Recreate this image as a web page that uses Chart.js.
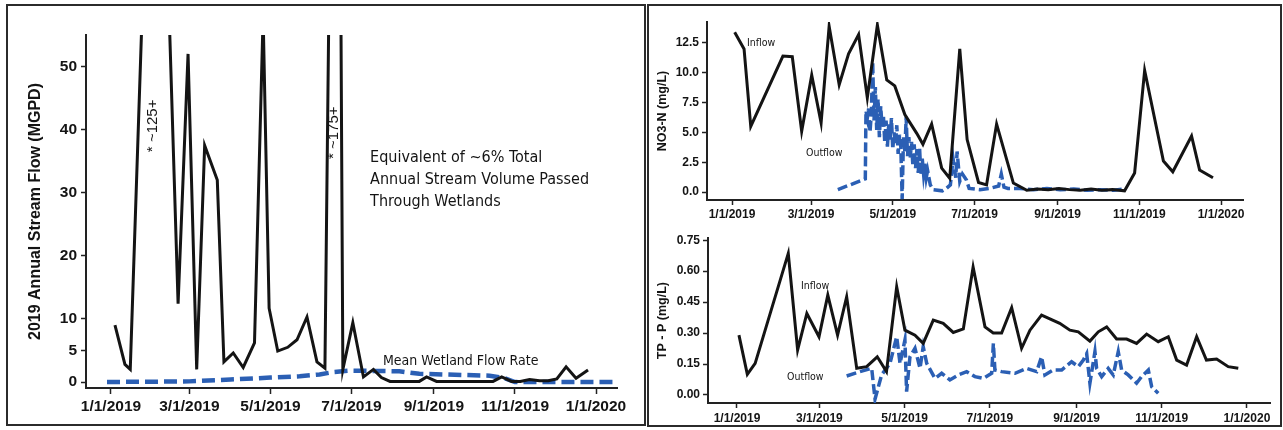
<!DOCTYPE html>
<html>
<head>
<meta charset="utf-8">
<title>2019 Stream Flow and Wetland Water Quality</title>
<script src="https://cdn.jsdelivr.net/npm/chart.js@4.4.1/dist/chart.umd.min.js"></script>
<style>
  html, body { margin: 0; padding: 0; background: #fff; width: 1283px; height: 430px; overflow: hidden; }
  .frame { position: absolute; box-sizing: border-box; border: 2px solid #2b2b2b; }
  canvas { position: absolute; }
</style>
</head>
<body>
<div class="frame" style="left:6px;top:4px;width:640px;height:422px"></div>
<div class="frame" style="left:647px;top:4px;width:635px;height:423px"></div>
<canvas id="flow" width="636" height="418" style="left:8px;top:6px"></canvas>
<canvas id="no3" width="628" height="214" style="left:650px;top:8px"></canvas>
<canvas id="tp" width="628" height="198" style="left:650px;top:228px"></canvas>
<script>
// Shared date axis: days counted from 1/1/2019
const dateTickDays = [0, 59, 120, 181, 243, 304, 365];
const dateTickLabels = ['1/1/2019', '3/1/2019', '5/1/2019', '7/1/2019', '9/1/2019', '11/1/2019', '1/1/2020'];

// Stream flow (MGPD)
const flowDay = [3, 10.5, 14.5, 34, 50.5, 58, 64.5, 70.5, 80, 85, 92, 99.5, 108, 114.5, 119, 125.5, 133, 140, 147.5, 155,
  161, 170, 174.5, 182, 190, 197.5, 203.5, 210, 220, 232, 237.5, 245, 258, 272, 287.5, 294, 301.5, 308, 315, 322.5,
  329, 335.5, 342.5, 350, 359];
const flowMGPD = [9, 2.8, 2, 125, 12.4, 52, 2, 37.5, 32, 3.2, 4.6, 2.3, 6.2, 58, 11.7, 4.9, 5.5, 6.7, 10.3, 3.2,
  2.2, 175, 2, 9.4, 0.8, 2, 0.7, 0.1, 0.1, 0.1, 0.8, 0.1, 0.1, 0.1, 0.1, 0.8, 0.1, 0.1, 0.4, 0.2,
  0.2, 0.5, 2.4, 0.6, 1.9];

// Mean wetland flow rate (MGPD)
const wetlandDay = [-3, 30, 59, 90, 120, 142, 157, 168, 180, 217, 232, 285, 296, 304, 381];
const wetlandMGPD = [0, 0.05, 0.1, 0.4, 0.7, 0.9, 1.2, 1.6, 1.8, 1.7, 1.3, 1.0, 0.6, 0, 0];

const flowTicks = [0, 5, 10, 20, 30, 40, 50];
const flowTickLabels = ['0', '5', '10', '20', '30', '40', '50'];

// NO3-N (mg/L)
const no3InDay = [2, 9, 14, 38, 45, 52, 59.5, 66.5, 72.5, 80, 87, 94.5, 101, 108.5, 115.5, 121.5, 129, 138, 142.5, 149,
  156.5, 162.5, 170, 175.5, 184, 190, 197.5, 210, 220, 228, 236, 244, 252, 260, 268, 276, 284, 293, 300.5, 308,
  322, 329, 343, 349, 359];
const no3In = [13.4, 12.0, 5.5, 11.4, 11.35, 5.1, 9.8, 5.8, 13.9, 9.0, 11.6, 13.2, 7.9, 14.0, 9.4, 8.9, 6.5, 4.9, 4.0, 5.7,
  2.0, 1.15, 12.0, 4.4, 0.8, 0.6, 5.7, 0.75, 0.15, 0.25, 0.2, 0.3, 0.2, 0.15, 0.25, 0.15, 0.2, 0.1, 1.6, 10.2,
  2.6, 1.7, 4.7, 1.85, 1.2];
const no3OutDay = [79, 99.5, 100, 101, 102, 103, 104, 105, 106, 107, 108, 109, 110, 111, 112, 113, 114, 115, 116, 117,
  118, 119, 120, 121, 122, 123, 124, 125, 126, 127, 128, 129, 130, 131, 132, 133, 134, 135, 136, 137,
  138, 139, 140, 141, 142, 143, 144, 145, 146, 148, 150, 157, 160, 163, 165, 167, 168, 170, 172, 175,
  177, 185, 192, 199, 201, 203, 206, 215, 225, 235, 245, 255, 265, 275, 285, 293];
const no3Out = [0.2, 1.1, 6.8, 6.2, 7.0, 5.0, 6.6, 10.9, 6.0, 8.8, 5.2, 7.8, 4.6, 7.2, 5.5, 6.4, 4.2, 6.0, 3.8, 5.8,
  4.4, 6.2, 3.6, 5.0, 4.0, 5.6, 3.2, 4.8, 3.8, -0.6, 4.6, 3.4, 6.3, 3.0, 4.6, 2.8, 4.2, 2.2, 4.0, 2.0,
  3.6, 1.6, 3.7, 1.4, 2.8, 1.5, 2.4, 1.2, 1.8, 0.6, 0.2, 0.1, 0.3, 0.6, 2.8, 1.2, 3.4, 0.9, 1.5, 1.0,
  0.3, 0.2, 0.3, 0.5, 1.5, 0.4, 0.3, 0.3, 0.2, 0.3, 0.2, 0.25, 0.15, 0.2, 0.15, 0.25];
const no3Ticks = [0, 2.5, 5, 7.5, 10, 12.5];
const no3TickLabels = ['0.0', '2.5', '5.0', '7.5', '10.0', '12.5'];

// TP - P (mg/L)
const tpInDay = [1.4, 7.4, 13, 36.7, 43.4, 50, 58.7, 65, 72, 78.5, 85.7, 92.8, 100.4, 107, 114.3, 120.2, 127.4, 133.3,
  140.5, 147.6, 154.8, 162, 169, 177.5, 183.4, 189.4, 196.6, 203.7, 209.7, 218, 231, 238.3, 244.3, 252.6, 258.6,
  264.6, 271.7, 278.9, 286, 293.2, 301.5, 308.7, 314.7, 321.8, 329, 336, 343.3, 351.6, 358.8];
const tpIn = [0.29, 0.10, 0.153, 0.686, 0.218, 0.395, 0.282, 0.484, 0.29, 0.476, 0.129, 0.137, 0.185, 0.113, 0.524, 0.314, 0.29, 0.25,
  0.363, 0.347, 0.303, 0.32, 0.62, 0.33, 0.30, 0.30, 0.423, 0.226, 0.314, 0.387, 0.347, 0.314, 0.306, 0.261, 0.306,
  0.33, 0.271, 0.271, 0.25, 0.295, 0.258, 0.282, 0.169, 0.145, 0.282, 0.169, 0.174, 0.137, 0.129];
const tpOutDay = [78.5, 88, 96.4, 98.8, 103.5, 109.5, 114.3, 116.7, 120.2, 121.4, 123.8, 127.4, 131, 133.3, 135.8, 141.7,
  146.5, 152.4, 158.4, 164.4, 170.3, 176.3, 182.3, 183.5, 184.6, 189.4, 199, 207.3, 214.5, 218, 220.4, 226.4, 232.4,
  239.5, 244.3, 247.9, 250.3, 252.6, 256.2, 257.4, 261, 265.7, 269.3, 272.9, 275.3, 280, 286, 289.6, 294.4, 296.8, 301.5];
const tpOut = [0.092, 0.113, 0.129, -0.02, 0.097, 0.153, 0.282, 0.153, 0.266, 0.016, 0.185, 0.226, 0.129, 0.234, 0.153, 0.08,
  0.105, 0.073, 0.097, 0.113, 0.089, 0.08, 0.105, 0.25, 0.121, 0.113, 0.105, 0.129, 0.113, 0.185, 0.097, 0.121, 0.121,
  0.161, 0.137, 0.169, 0.2, 0.057, 0.21, 0.129, 0.089, 0.129, 0.097, 0.21, 0.121, 0.097, 0.057, 0.089, 0.121, 0.04, 0.008];
const tpTicks = [0, 0.15, 0.30, 0.45, 0.60, 0.75];
const tpTickLabels = ['0.00', '0.15', '0.30', '0.45', '0.60', '0.75'];

// Annotation text
const volumeNote = ['Equivalent of ~6% Total', 'Annual Stream Volume Passed', 'Through Wetlands'];
const wetlandNote = 'Mean Wetland Flow Rate';
const peakNotes = ['* ~125+', '* ~175+'];

const INK = '#141414';
const BLUE = '#2b5fb4';
const SANS = 'Liberation Sans, Arial, sans-serif';
const NOTE = '"DejaVu Sans Condensed", "DejaVu Sans", Tahoma, sans-serif';

const pairs = (xs, ys) => xs.map((x, i) => ({ x, y: ys[i] }));

// Writes free text at data coordinates
const notesPlugin = {
  id: 'notes',
  afterDatasetsDraw(chart, args, opts) {
    const ctx = chart.ctx, xs = chart.scales.x, ys = chart.scales.y;
    (opts.items || []).forEach(n => {
      ctx.save();
      ctx.translate(xs.getPixelForValue(n.x), ys.getPixelForValue(n.y));
      if (n.rotate) ctx.rotate(n.rotate * Math.PI / 180);
      ctx.font = n.font;
      ctx.fillStyle = n.color || INK;
      ctx.textAlign = n.align || 'left';
      ctx.textBaseline = 'middle';
      n.lines.forEach((t, i) => ctx.fillText(t, 0, i * (n.gap || 0)));
      ctx.restore();
    });
  }
};

function dateAxis(min, max, height, font, tickLength, padding) {
  return {
    type: 'linear', min, max,
    afterBuildTicks: s => { s.ticks = dateTickDays.map(v => ({ value: v })); },
    afterFit: s => { s.height = height; },
    ticks: { callback: (v, i) => dateTickLabels[i], autoSkip: false, maxRotation: 0, minRotation: 0,
             font, color: INK, padding },
    grid: { drawOnChartArea: false, drawTicks: true, tickLength, tickColor: '#222', tickWidth: 1.5 },
    border: { display: true, color: '#222', width: 2 }
  };
}

function valueAxis(min, max, values, labels, width, font, tickLength, padding, title, titleFont, titlePad) {
  return {
    type: 'linear', min, max,
    afterBuildTicks: s => { s.ticks = values.map(v => ({ value: v })); },
    afterFit: s => { s.width = width; },
    ticks: { callback: (v, i) => labels[i], autoSkip: false, font, color: INK, padding },
    grid: { drawOnChartArea: false, drawTicks: true, tickLength, tickColor: '#222', tickWidth: 1.5 },
    border: { display: true, color: '#222', width: 2 },
    title: { display: true, text: title, font: titleFont, color: INK, padding: { top: titlePad, bottom: 0 } }
  };
}

function lineSet(data, color, width, dash) {
  return { data, borderColor: color, borderWidth: width, borderDash: dash || [], pointRadius: 0,
           tension: 0, fill: false, borderJoinStyle: 'miter', borderCapStyle: 'butt' };
}

const common = {
  responsive: false, animation: false, events: [],
  plugins: { legend: { display: false }, tooltip: { enabled: false } }
};

// Left: annual stream flow with mean wetland flow
new Chart(document.getElementById('flow'), {
  type: 'line',
  data: { datasets: [
    lineSet(pairs(flowDay, flowMGPD), INK, 3),
    lineSet(pairs(wetlandDay, wetlandMGPD), BLUE, 4.5, [13, 6])
  ] },
  options: {
    ...common,
    layout: { padding: { top: 29, right: 27, bottom: 0, left: 0 } },
    scales: {
      x: dateAxis(-18.8, 380.8, 36, { family: SANS, size: 15.5, weight: 'bold' }, 6, 3),
      y: valueAxis(-0.95, 55, flowTicks, flowTickLabels, 78, { family: SANS, size: 15.5, weight: 'bold' }, 5, 4,
                   '2019 Annual Stream Flow (MGPD)', { family: SANS, size: 16, weight: 'bold' }, 18)
    },
    plugins: { ...common.plugins, notes: { items: [
      { x: 195, y: 35.5, lines: volumeNote, gap: 22, font: '16px ' + NOTE },
      { x: 204.7, y: 3.2, lines: [wetlandNote], font: '14px ' + NOTE },
      { x: 31.6, y: 40.6, lines: [peakNotes[0]], rotate: -90, align: 'center', font: '15px ' + SANS },
      { x: 167.8, y: 39.5, lines: [peakNotes[1]], rotate: -90, align: 'center', font: '15px ' + SANS }
    ] } }
  },
  plugins: [notesPlugin]
});

// Right top: nitrate
new Chart(document.getElementById('no3'), {
  type: 'line',
  data: { datasets: [
    lineSet(pairs(no3InDay, no3In), INK, 3),
    lineSet(pairs(no3OutDay, no3Out), BLUE, 3.5, [10, 4])
  ] },
  options: {
    ...common,
    layout: { padding: { top: 14, right: 35, bottom: 0, left: 0 } },
    scales: {
      x: dateAxis(-18.66, 381.4, 22, { family: SANS, size: 12, weight: 'bold' }, 5, 2),
      y: valueAxis(-0.67, 14.26, no3Ticks, no3TickLabels, 57, { family: SANS, size: 12, weight: 'bold' }, 5, 3,
                   'NO3-N (mg/L)', { family: SANS, size: 12.5, weight: 'bold' }, 5.5)
    },
    plugins: { ...common.plugins, notes: { items: [
      { x: 11.2, y: 12.5, lines: ['Inflow'], font: '10.5px ' + NOTE },
      { x: 55.2, y: 3.27, lines: ['Outflow'], font: '10.5px ' + NOTE }
    ] } }
  },
  plugins: [notesPlugin]
});

// Right bottom: total phosphorus
new Chart(document.getElementById('tp'), {
  type: 'line',
  data: { datasets: [
    lineSet(pairs(tpInDay, tpIn), INK, 3),
    lineSet(pairs(tpOutDay, tpOut), BLUE, 3.5, [10, 4])
  ] },
  options: {
    ...common,
    layout: { padding: { top: 10, right: 8, bottom: 0, left: 0 } },
    scales: {
      x: dateAxis(-20.75, 381.5, 23, { family: SANS, size: 12, weight: 'bold' }, 5, 3),
      y: valueAxis(-0.039, 0.7597, tpTicks, tpTickLabels, 58, { family: SANS, size: 12, weight: 'bold' }, 5, 3,
                   'TP - P (mg/L)', { family: SANS, size: 12.5, weight: 'bold' }, 5.5)
    },
    plugins: { ...common.plugins, notes: { items: [
      { x: 45.8, y: 0.527, lines: ['Inflow'], font: '10.5px ' + NOTE },
      { x: 35.8, y: 0.087, lines: ['Outflow'], font: '10.5px ' + NOTE }
    ] } }
  },
  plugins: [notesPlugin]
});
</script>
</body>
</html>
